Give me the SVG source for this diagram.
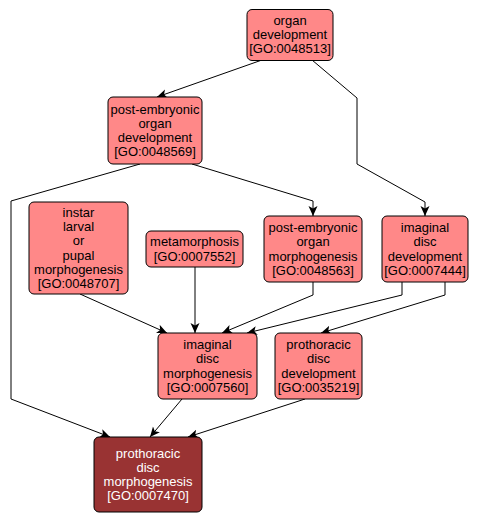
<svg xmlns="http://www.w3.org/2000/svg" width="478" height="524" viewBox="0 0 478 524">
<style>
.n rect{fill:#ff8888;stroke:#000;stroke-width:1}
.n text{font-family:"Liberation Sans",Arial,sans-serif;font-size:13px;fill:#000;text-anchor:middle}
.q rect{fill:#993333}
.q text{fill:#fff}
.e path{fill:none;stroke:#000;stroke-width:1;marker-end:url(#ah)}
</style>
<defs>
<marker id="ah" markerUnits="userSpaceOnUse" markerWidth="12" markerHeight="10" refX="10" refY="4.5" orient="auto">
<path d="M0,0 L10,4.5 L0,9 L2.5,4.5 z" fill="#000"/>
</marker>
</defs>
<rect width="478" height="524" fill="#fff"/>
<g class="e" id="edges">
<path d="M262,60 L157,97"/>
<path d="M312,60 L357,98 L357,164 L425,202 L425,216"/>
<path d="M192,164 L313,201 L313,216"/>
<path d="M140,164 L11,201 L11,399 L110,437"/>
<path d="M80,294 L167,333"/>
<path d="M195,267 L195,333"/>
<path d="M313,282 L313,295 L222,333"/>
<path d="M402,282 L402,295 L247,333"/>
<path d="M445,282 L445,295 L321,333"/>
<path d="M182,399 L150,437"/>
<path d="M305,399 L188,437"/>
</g>
<g class="n" id="GO0048513">
<rect x="247" y="9.5" width="86" height="51" rx="5"/>
<text x="290" y="24.7">organ</text>
<text x="290" y="39">development</text>
<text x="290" y="53.3">[GO:0048513]</text>
</g>
<g class="n" id="GO0048569">
<rect x="108" y="97" width="94" height="67" rx="5"/>
<text x="155" y="113.5">post-embryonic</text>
<text x="155" y="127.8">organ</text>
<text x="155" y="142.1">development</text>
<text x="155" y="156.4">[GO:0048569]</text>
</g>
<g class="n" id="GO0048707">
<rect x="29" y="202" width="99" height="92" rx="5"/>
<text x="78.5" y="216.8">instar</text>
<text x="78.5" y="231.1">larval</text>
<text x="78.5" y="245.4">or</text>
<text x="78.5" y="259.7">pupal</text>
<text x="78.5" y="274">morphogenesis</text>
<text x="78.5" y="288.3">[GO:0048707]</text>
</g>
<g class="n" id="GO0007552">
<rect x="146" y="231" width="97" height="36" rx="5"/>
<text x="194.5" y="246.4">metamorphosis</text>
<text x="194.5" y="260.7">[GO:0007552]</text>
</g>
<g class="n" id="GO0048563">
<rect x="264" y="216" width="98" height="66" rx="5"/>
<text x="313" y="232">post-embryonic</text>
<text x="313" y="246.3">organ</text>
<text x="313" y="260.6">morphogenesis</text>
<text x="313" y="274.9">[GO:0048563]</text>
</g>
<g class="n" id="GO0007444">
<rect x="382" y="216" width="86" height="66" rx="5"/>
<text x="425" y="232">imaginal</text>
<text x="425" y="246.3">disc</text>
<text x="425" y="260.6">development</text>
<text x="425" y="274.9">[GO:0007444]</text>
</g>
<g class="n" id="GO0007560">
<rect x="158" y="333" width="99" height="66" rx="5"/>
<text x="207.5" y="349">imaginal</text>
<text x="207.5" y="363.3">disc</text>
<text x="207.5" y="377.6">morphogenesis</text>
<text x="207.5" y="391.9">[GO:0007560]</text>
</g>
<g class="n" id="GO0035219">
<rect x="275" y="333" width="87" height="66" rx="5"/>
<text x="318.5" y="349">prothoracic</text>
<text x="318.5" y="363.3">disc</text>
<text x="318.5" y="377.6">development</text>
<text x="318.5" y="391.9">[GO:0035219]</text>
</g>
<g class="n q" id="GO0007470">
<rect x="94" y="437" width="108" height="75" rx="5"/>
<text x="148" y="457.5">prothoracic</text>
<text x="148" y="471.8">disc</text>
<text x="148" y="486.1">morphogenesis</text>
<text x="148" y="500.4">[GO:0007470]</text>
</g>
</svg>
